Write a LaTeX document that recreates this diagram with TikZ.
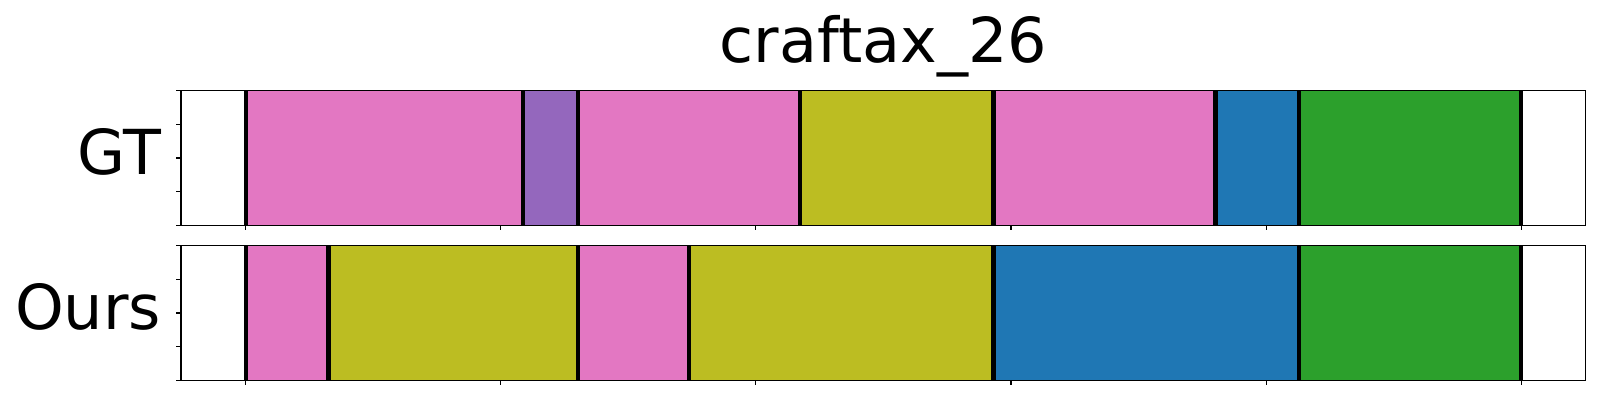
\documentclass[tikz,border=0pt]{standalone}
\usepackage{fontspec}
\setmainfont{DejaVu Sans}
\usetikzlibrary{calc}

\begin{document}
\begin{tikzpicture}[x=0.5pt, y=-0.5pt]
        \definecolor{segpink}{HTML}{E377C2}
        \definecolor{segpurple}{HTML}{9467BD}
        \definecolor{segolive}{HTML}{BCBD22}
        \definecolor{segblue}{HTML}{1F77B4}
        \definecolor{seggreen}{HTML}{2CA02C}
        \tikzset{segment/.style={line width=0.5pt}}
        \tikzset{boundary/.style={line width=2.2pt, draw=black}}
        \tikzset{axisframe/.style={draw=black, line width=0.55pt}}
        \tikzset{axistick/.style={draw=black, line width=0.55pt}}
        \tikzset{bigtext/.style={font=\fontsize{31}{37}\selectfont}}
        \tikzset{rowlabel/.style={bigtext, anchor=base east}}

        \useasboundingbox (0,0) rectangle (1600,400);

        \node[bigtext, anchor=base] (title) at (883.4,63) {craftax\_26};
        \node[rowlabel] (gtlabel) at (168,175) {GT};
        \node[rowlabel] (ourslabel) at (168,330) {Ours};

        % segments, in frames (0..500)
        \begin{scope}[shift={(245.7,0)}, x=1.2755pt]
                \foreach \a/\b/\c in {0/108.6/segpink, 108.6/130.3/segpurple,
                        130.3/217.2/segpink, 217.2/293.2/segolive, 293.2/380.2/segpink,
                        380.2/412.9/segblue, 412.9/500/seggreen}
                        \filldraw[segment, fill=\c, draw=\c!85!black] (\a,90.5) rectangle (\b,225.5);
                \foreach \a in {0,108.6,130.3,217.2,293.2,380.2,412.9,500}
                        \draw[boundary] (\a,90.5) -- (\a,225.5);

                \foreach \a/\b/\c in {0/32.5/segpink, 32.5/130.3/segolive,
                        130.3/173.8/segpink, 173.8/293.2/segolive, 293.2/412.9/segblue,
                        412.9/500/seggreen}
                        \filldraw[segment, fill=\c, draw=\c!85!black] (\a,245.5) rectangle (\b,380.5);
                \foreach \a in {0,32.5,130.3,173.8,293.2,412.9,500}
                        \draw[boundary] (\a,245.5) -- (\a,380.5);
        \end{scope}

        % frames and ticks
        \foreach \top/\bot in {90.5/225.5, 245.5/380.5} {
                \draw[axisframe] (181,\top) rectangle (1585.7,\bot);
                \foreach \k in {0,...,4}
                        \draw[axistick] (181,{\bot-\k*(\bot-\top)/4}) -- ++(-4.9,0);
                \foreach \k in {0,...,5}
                        \draw[axistick] ({245.7+\k*255.1},\bot) -- ++(0,4.9);
        }
\end{tikzpicture}
\end{document}
